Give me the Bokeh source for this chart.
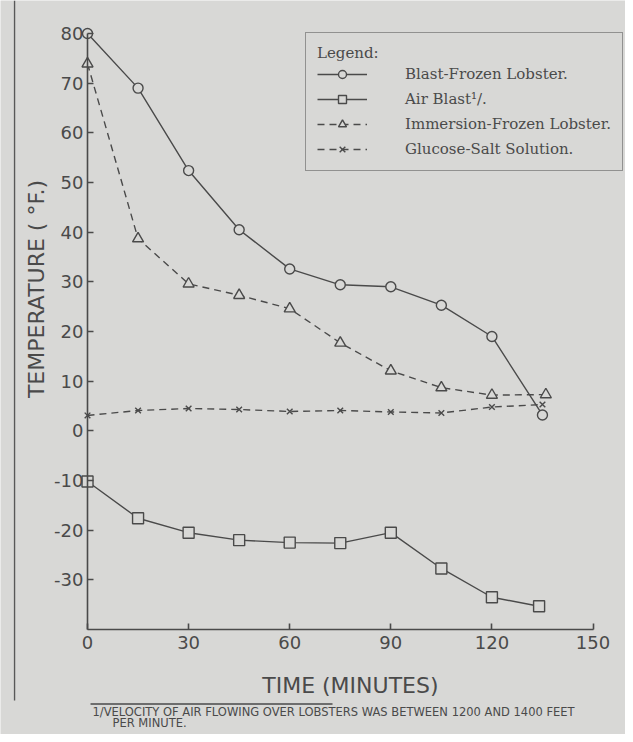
from bokeh.plotting import figure
from bokeh.models import Legend, LegendItem, FixedTicker, Label, BoxAnnotation, Range1d
from bokeh.embed import file_html
from bokeh.resources import INLINE

# ---- data ----
time_pts = [0, 15, 30, 45, 60, 75, 90, 105, 120]
blast_frozen_t = time_pts + [135]
blast_frozen = [80.0, 69.0, 52.4, 40.5, 32.6, 29.4, 29.0, 25.3, 19.0, 3.2]
air_blast_t = time_pts + [134]
air_blast = [-10.2, -17.6, -20.5, -22.0, -22.5, -22.6, -20.5, -27.7, -33.5, -35.3]
immersion_t = time_pts + [136]
immersion = [73.9, 38.7, 29.6, 27.3, 24.6, 17.7, 12.1, 8.7, 7.2, 7.3]
glucose_t = time_pts + [135]
glucose = [3.1, 4.1, 4.5, 4.3, 3.9, 4.1, 3.8, 3.6, 4.8, 5.3]

x_ticks = [0, 30, 60, 90, 120, 150]
y_ticks = [-30, -20, -10, 0, 10, 20, 30, 40, 50, 60, 70, 80]
y_tick_labels = ["-30", "-20", "-10", "0", "10", "20", "30", "40", "50", "60", "70", "80"]

series_labels = ["Blast-Frozen Lobster.", "Air Blast\u00b9/.", "Immersion-Frozen Lobster.", "Glucose-Salt Solution."]
x_title = "TIME (MINUTES)"
y_title = "TEMPERATURE  ( \u00b0F.)"
foot1 = "1/VELOCITY OF AIR FLOWING OVER LOBSTERS WAS BETWEEN 1200 AND 1400 FEET"
foot2 = "PER MINUTE."

BG = "#d8d8d6"
INK = "#4a4a4a"

# The frame fills the whole figure; the axes sit at fixed data locations inside it.
p = figure(width=625, height=734,
           x_range=Range1d(-25.82, 159.64), y_range=Range1d(-61.13, 86.64),
           output_backend="svg", toolbar_location=None,
           min_border=0, min_border_left=0, min_border_right=0, min_border_top=0, min_border_bottom=0,
           background_fill_color=BG, border_fill_color=BG, outline_line_color=None)
p.xgrid.visible = False
p.ygrid.visible = False

for ax, ticks, bounds, loc in ((p.xaxis[0], x_ticks, (0, 150), -40), (p.yaxis[0], y_ticks, (-40, 80), 0)):
    ax.ticker = FixedTicker(ticks=ticks)
    ax.bounds = bounds
    ax.fixed_location = loc
    ax.major_tick_in = 6
    ax.major_tick_out = 0
    ax.minor_tick_line_color = None
    ax.axis_line_color = INK
    ax.axis_line_width = 1.6
    ax.major_tick_line_color = INK
    ax.major_tick_line_width = 1.6
    ax.major_label_text_font = "DejaVu Sans"
    ax.major_label_text_font_size = "18px"
    ax.major_label_text_color = INK
p.xaxis[0].major_label_standoff = 6
p.yaxis[0].major_label_standoff = 4
p.yaxis[0].major_label_overrides = {t: s for t, s in zip(y_ticks, y_tick_labels)}

lw = 1.4
r1l = p.line(blast_frozen_t, blast_frozen, line_color=INK, line_width=lw)
r1m = p.scatter(blast_frozen_t, blast_frozen, marker="circle", size=10, line_color=INK, line_width=lw, fill_color=BG)
r2l = p.line(air_blast_t, air_blast, line_color=INK, line_width=lw)
r2m = p.scatter(air_blast_t, air_blast, marker="square", size=11, line_color=INK, line_width=lw, fill_color=BG)
r3l = p.line(immersion_t, immersion, line_color=INK, line_width=lw, line_dash="7 5")
r3m = p.scatter(immersion_t, immersion, marker="triangle", size=11, line_color=INK, line_width=lw, fill_color=BG)
r4l = p.line(glucose_t, glucose, line_color=INK, line_width=lw, line_dash="7 5")
r4m = p.scatter(glucose_t, glucose, marker="x", size=8, line_color=INK, line_width=lw)

legend = Legend(items=[LegendItem(label=series_labels[0], renderers=[r1l, r1m]),
                       LegendItem(label=series_labels[1], renderers=[r2l, r2m]),
                       LegendItem(label=series_labels[2], renderers=[r3l, r3m]),
                       LegendItem(label=series_labels[3], renderers=[r4l, r4m])],
                location=(305, 563), title="Legend:",
                title_text_font="DejaVu Serif", title_text_font_size="15px", title_text_font_style="normal",
                title_text_color=INK, title_standoff=2,
                label_text_font="DejaVu Serif", label_text_font_size="15px", label_text_color=INK,
                glyph_width=50, glyph_height=20, label_height=20, label_standoff=38,
                spacing=5, padding=11, margin=0,
                border_line_color=INK, border_line_width=1.6,
                background_fill_color=BG, background_fill_alpha=1)
p.add_layout(legend)

p.add_layout(Label(x=78.0, y=-51.27, text=x_title,
                   text_align="center", text_baseline="middle", text_font="DejaVu Sans",
                   text_font_size="22px", text_color=INK))
p.add_layout(Label(x=-15.13, y=29.27, text=y_title, angle=90, angle_units="deg",
                   text_align="center", text_baseline="middle", text_font="DejaVu Sans",
                   text_font_size="22px", text_color=INK))
p.add_layout(Label(x=1.48, y=-56.70, text=foot1,
                   text_align="left", text_baseline="middle", text_font="DejaVu Sans",
                   text_font_size="11.5px", text_color=INK))
p.add_layout(Label(x=7.42, y=-58.72, text=foot2,
                   text_align="left", text_baseline="middle", text_font="DejaVu Sans",
                   text_font_size="11.5px", text_color=INK))
# footnote rule and the scanned page's left border line
p.add_layout(BoxAnnotation(left=0.89, right=72.7, top=-54.85, bottom=-55.15,
                           fill_color=INK, fill_alpha=1, line_color=None))
p.add_layout(BoxAnnotation(left=-21.85, right=-21.45, top=86.64, bottom=-54.3,
                           fill_color=INK, fill_alpha=0.9, line_color=None))

open("out.html", "w").write(file_html(p, INLINE))
